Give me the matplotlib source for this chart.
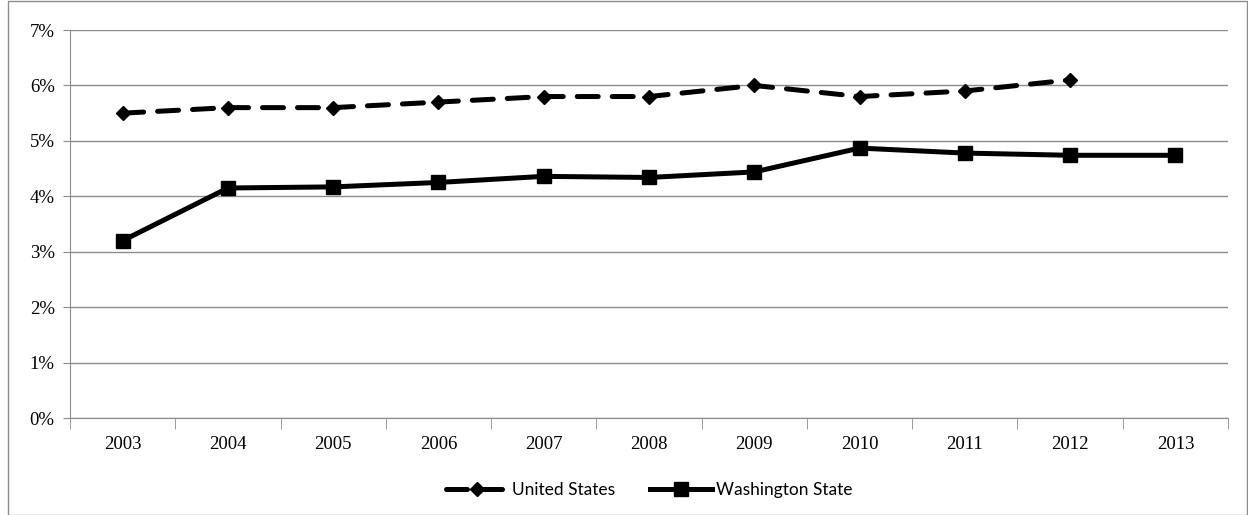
import matplotlib.pyplot as plt
from matplotlib.patches import Rectangle
from matplotlib.ticker import FixedLocator, FuncFormatter

years = [2003, 2004, 2005, 2006, 2007, 2008, 2009, 2010, 2011, 2012, 2013]
us = [5.5, 5.6, 5.6, 5.7, 5.8, 5.8, 6.0, 5.8, 5.9, 6.1]
wa = [3.2, 4.15, 4.17, 4.25, 4.36, 4.34, 4.44, 4.87, 4.78, 4.74, 4.74]

fig = plt.figure(figsize=(12.48, 5.15), dpi=100)
ax = fig.add_axes([0.0561, 0.1883, 0.9279, 0.7534])

x = list(range(len(years)))

ax.plot(x[:len(us)], us, color='black', lw=3.6, dashes=(4.2, 2.8),
        dash_capstyle='round', marker='D', ms=7.5, label='United States')
ax.plot(x, wa, color='black', lw=3.6, marker='s', ms=10.5,
        label='Washington State')

ax.set_xlim(-0.5, len(years) - 0.5)
ax.set_ylim(0, 7)
ax.set_yticks(range(8))
ax.yaxis.set_major_formatter(FuncFormatter(lambda v, p: '%d%%' % v))
ax.set_xticks(x)
ax.set_xticklabels([str(yr) for yr in years])
ax.xaxis.set_minor_locator(FixedLocator([i - 0.5 for i in range(len(years) + 1)]))

ax.grid(axis='y', color='#8c8c8c', lw=1)
ax.set_axisbelow(True)
for s in ['top', 'right']:
    ax.spines[s].set_visible(False)
for s in ['left', 'bottom']:
    ax.spines[s].set_color('#8c8c8c')

ax.tick_params(axis='x', which='major', length=0, pad=13)
ax.tick_params(axis='x', which='minor', length=8, color='#8c8c8c')
ax.tick_params(axis='y', length=5, color='#8c8c8c', pad=6)
for lab in ax.get_xticklabels() + ax.get_yticklabels():
    lab.set_family('Liberation Serif')
    lab.set_fontsize(13.5)

ax.legend(loc='upper center', bbox_to_anchor=(0.5, -0.125), ncol=2, frameon=False,
          prop={'family': 'Lato', 'size': 12.5}, handlelength=3.6, columnspacing=2.0,
          handletextpad=0.2)

fig.add_artist(Rectangle((8 / 1248, 0), 1 - 9 / 1248, 1 - 1 / 515, transform=fig.transFigure,
                         fill=False, edgecolor='#8c8c8c', lw=1))

fig.savefig('out.png', dpi=100)
